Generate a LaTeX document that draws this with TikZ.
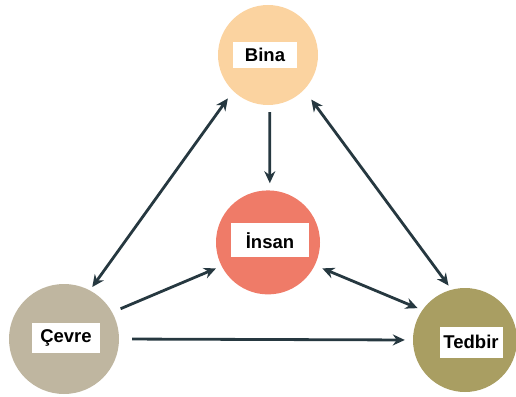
\documentclass[tikz,border=0pt]{standalone}
\usepackage{fontspec}
\setmainfont{Liberation Sans}
\usetikzlibrary{positioning,arrows.meta}

\definecolor{binacol}{RGB}{251,211,160}
\definecolor{insancol}{RGB}{239,123,104}
\definecolor{cevrecol}{RGB}{191,182,160}
\definecolor{tedbircol}{RGB}{169,158,98}
\definecolor{linkcol}{RGB}{38,56,64}

\begin{document}
\begin{tikzpicture}[x=1pt, y=1pt,
	circ/.style={circle, inner sep=0pt},
	lbl/.style={fill=white, inner sep=0pt, font=\fontsize{18.5}{20}\selectfont\bfseries},
	link/.style={draw=linkcol, line width=2.8pt, -{Stealth[length=12pt,width=11pt]}},
	both/.style={link, {Stealth[length=12pt,width=11pt]}-{Stealth[length=12pt,width=11pt]}}]
	\useasboundingbox (0,0) rectangle (516,-396);

	\node (bina) [circ, fill=binacol, minimum size=100pt] at (268,-55) {};
	\node (insan) [circ, fill=insancol, minimum size=104pt, below=85pt of bina] {};
	\node (cevre) [circ, fill=cevrecol, minimum size=110pt] at (64,-339) {};
	\node (tedbir) [circ, fill=tedbircol, minimum size=104pt] at (465,-340) {};

	\node (binatxt) [lbl, minimum width=64pt, minimum height=26pt] at ([xshift=-3pt]bina) {Bina};
	\node (insantxt) [lbl, minimum width=78pt, minimum height=34pt] at ([xshift=2pt,yshift=2pt]insan) {İnsan};
	\node (cevretxt) [lbl, minimum width=68pt, minimum height=30pt] at ([xshift=2pt,yshift=1pt]cevre) {Çevre};
	\node (tedbirtxt) [lbl, minimum width=63pt, minimum height=31pt] at ([xshift=6pt,yshift=-2pt]tedbir) {Tedbir};

	\draw [both, shorten <=9pt, shorten >=4pt] (bina.226) -- (cevre.62);
	\draw [both, shorten <=12pt, shorten >=5pt] (bina.316) -- (tedbir.105);
	\draw [link, shorten <=7pt, shorten >=7pt] (bina.272) -- (insan.88);
	\draw [link, shorten <=9pt, shorten >=6pt] (cevre.29) -- (insan.207);
	\draw [both, shorten <=8pt, shorten >=5pt] (insan.334) -- (tedbir.145);
	\draw [link, shorten <=13pt, shorten >=8pt] (cevre.east) -- (tedbir.west);
\end{tikzpicture}
\end{document}
